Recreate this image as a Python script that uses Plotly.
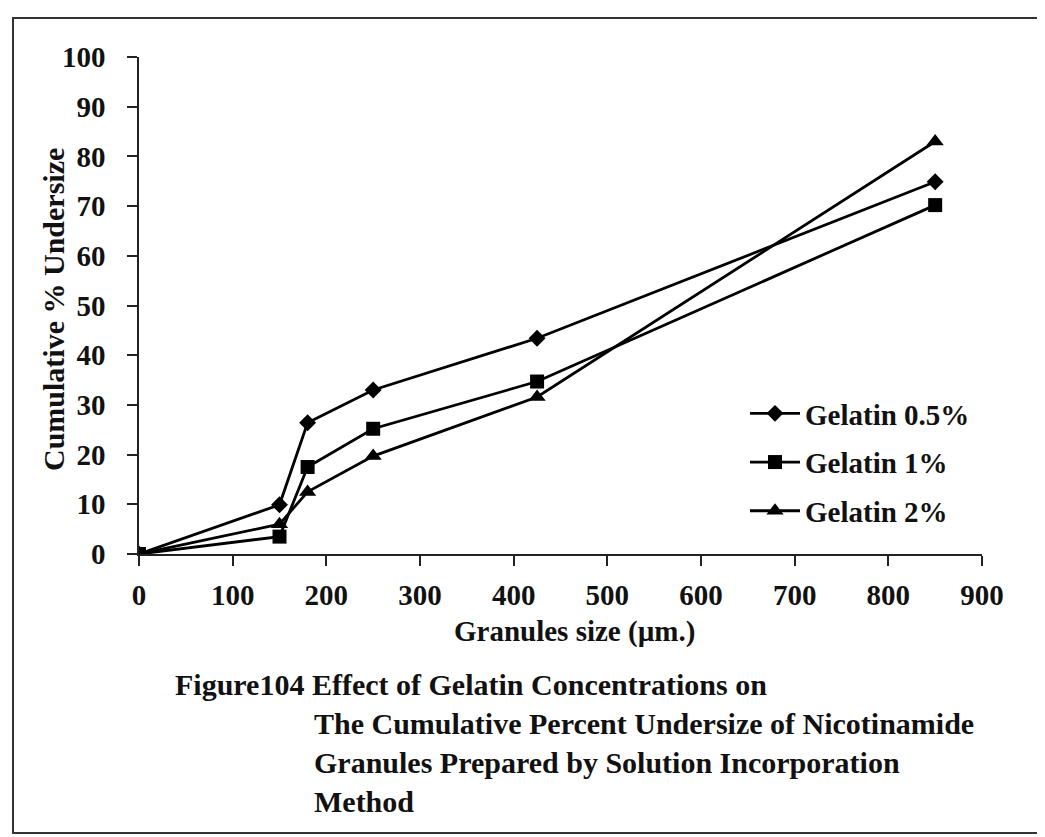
import plotly.graph_objects as go

# Data
sizes = [0, 150, 180, 250, 425, 850]
gel_05 = [0, 9.9, 26.4, 33.0, 43.4, 74.9]
gel_1 = [0, 3.5, 17.5, 25.2, 34.7, 70.2]
gel_2 = [0, 6.0, 12.5, 19.7, 31.6, 83.0]
series_names = ["Gelatin 0.5%", "Gelatin 1%", "Gelatin 2%"]
x_ticks = list(range(0, 1000, 100))
y_ticks = list(range(0, 110, 10))

FONT = "Liberation Serif"
OFF = 8  # page body margin
W, H = 1045 - OFF, 837 - OFF
pw, ph = 843, 497
L, T = 139 - OFF, 57 - OFF
R, B = W - L - pw, H - T - ph

def px(x):
    return (x - OFF - L) / pw

def py(y):
    return (T + ph - (y - OFF)) / ph

fig = go.Figure()
symbols = ["diamond", "square", "triangle-up"]
msizes = [13, 14, 15]
for name, vals, sym, ms in zip(series_names, [gel_05, gel_1, gel_2], symbols, msizes):
    fig.add_trace(go.Scatter(
        x=sizes, y=vals, name=name, mode="lines+markers",
        line=dict(color="black", width=2.8),
        marker=dict(symbol=sym, size=ms, color="black"),
        legendgroup=name,
    ))

tfont = dict(family=FONT, size=29, color="#111", weight="bold")
axis_common = dict(showgrid=False, zeroline=False, showline=True, linecolor="#222",
                   linewidth=1.5, ticks="outside", ticklen=10, tickwidth=1.5,
                   tickcolor="#222", tickfont=tfont)

fig.update_layout(
    width=W, height=H,
    margin=dict(l=L, r=R, t=T, b=B),
    paper_bgcolor="white", plot_bgcolor="rgba(0,0,0,0)",
    xaxis=dict(range=[0, 900], tickvals=x_ticks, ticklabelstandoff=4, **axis_common),
    yaxis=dict(range=[0, 100], tickvals=y_ticks, ticklabelstandoff=16, **axis_common),
    xaxis2=dict(range=[0, 900], tickvals=x_ticks, overlaying="x", showticklabels=False,
                showgrid=False, zeroline=False, ticks="inside", ticklen=10, tickwidth=1.5,
                tickcolor="#222", showline=False),
    yaxis2=dict(range=[0, 100], tickvals=y_ticks, overlaying="y", showticklabels=False,
                showgrid=False, zeroline=False, ticks="inside", ticklen=10, tickwidth=1.5,
                tickcolor="#222", showline=False),
    showlegend=True,
    legend=dict(x=px(745), y=py(388), xanchor="left", yanchor="top",
                bgcolor="rgba(0,0,0,0)", traceorder="grouped", tracegroupgap=8,
                font=tfont, itemwidth=50),
)

cap_font = dict(family=FONT, size=30, color="#111", weight="bold")
annos = [
    dict(text="Granules size (µm.)", x=px(574), y=py(631), xanchor="center", yanchor="middle",
         font=dict(family=FONT, size=29, color="#111", weight="bold")),
    dict(text="Cumulative % Undersize", x=px(53), y=py(310), xanchor="center", yanchor="middle",
         textangle=-90, font=dict(family=FONT, size=30, color="#111", weight="bold")),
    dict(text="Figure104 Effect of Gelatin Concentrations on", x=px(173), y=py(684),
         xanchor="left", yanchor="middle", font=cap_font),
    dict(text="The Cumulative Percent Undersize of Nicotinamide", x=px(312), y=py(723),
         xanchor="left", yanchor="middle", font=cap_font),
    dict(text="Granules Prepared by Solution Incorporation", x=px(312), y=py(762),
         xanchor="left", yanchor="middle", font=cap_font),
    dict(text="Method", x=px(312), y=py(801), xanchor="left", yanchor="middle", font=cap_font),
]
for a in annos:
    fig.add_annotation(xref="paper", yref="paper", showarrow=False, **a)

fig.add_shape(type="rect", xref="paper", yref="paper",
              x0=px(13), x1=px(1040), y0=py(833), y1=py(18),
              line=dict(color="#333", width=2), fillcolor="rgba(0,0,0,0)", layer="below")

fig.write_html("out.html")
